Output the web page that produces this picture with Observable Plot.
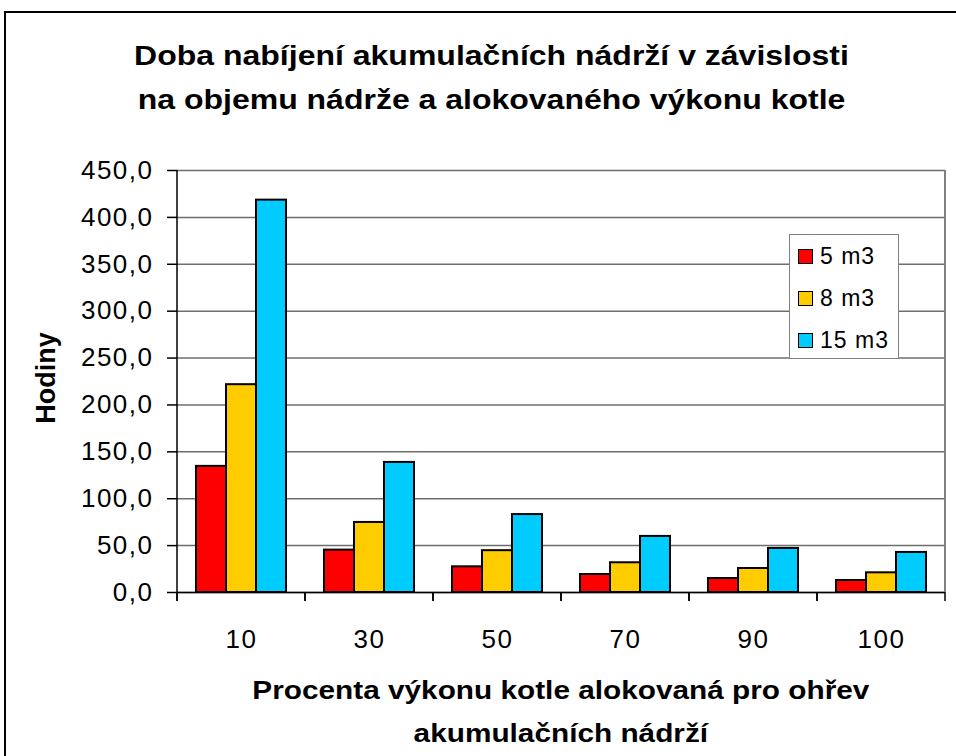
<!DOCTYPE html>
<html>
<head>
<meta charset="utf-8">
<script src="https://cdn.jsdelivr.net/npm/d3@7"></script>
<script src="https://cdn.jsdelivr.net/npm/@observablehq/plot@0.6"></script>
<style>
  html, body { margin: 0; padding: 0; background: #fff; }
  body { width: 956px; height: 756px; position: relative; overflow: hidden; font-family: "Liberation Sans", Arial, sans-serif; }
  #frame { position: absolute; left: 4px; top: 11px; width: 1000px; height: 800px; border: 2px solid #000; box-sizing: border-box; }
  #chart { position: absolute; left: 0; top: 0; }
  #chart svg text { letter-spacing: 1.5px; }
  .title { position: absolute; left: 0; width: 983px; text-align: center; font-weight: bold; color: #000; }
  #title { top: 35px; font-size: 27px; line-height: 43.5px; transform: scaleX(1.185); transform-origin: 491.5px 0; }
  #xtitle { top: 669px; left: 177px; width: 768px; font-size: 26px; line-height: 43px; transform: scaleX(1.145); transform-origin: 385px 0; }
  #ytitle { position: absolute; left: 46px; top: 378px; transform: translate(-50%, -50%) rotate(-90deg); font-size: 27px; font-weight: bold; white-space: nowrap; }
  #legend { position: absolute; left: 789px; top: 234px; width: 110px; height: 125px; box-sizing: border-box; border: 1px solid #808080; background: #fff; }
  .item { position: absolute; left: 8px; height: 30px; display: flex; align-items: center; font-size: 23px; letter-spacing: 1px; color: #000; }
  .sw { width: 13px; height: 13px; border: 1.5px solid #000; margin-right: 7px; }
</style>
</head>
<body>
<div id="frame"></div>
<div id="chart"></div>
<div id="title" class="title">Doba nabíjení akumulačních nádrží v závislosti<br>na objemu nádrže a alokovaného výkonu kotle</div>
<div id="xtitle" class="title">Procenta výkonu kotle alokovaná pro ohřev<br>akumulačních nádrží</div>
<div id="ytitle">Hodiny</div>
<div id="legend"></div>
<script>
// ---- data ----
const categories = ["10", "30", "50", "70", "90", "100"];
const series = ["5 m3", "8 m3", "15 m3"];
const colors = ["#FF0000", "#FFCC00", "#00CCFF"];
const values5 = [134.5, 45.2, 27.4, 19.2, 14.9, 12.8];
const values8 = [221.6, 74.7, 44.6, 31.7, 25.6, 21.0];
const values15 = [418.4, 138.7, 83.1, 59.8, 47.0, 42.7];
const yTicks = [0, 50, 100, 150, 200, 250, 300, 350, 400, 450];

const seriesValues = [values5, values8, values15];
const data = [];
categories.forEach((c, i) => series.forEach((s, j) => data.push({cat: c, series: s, value: seriesValues[j][i]})));

const fmt = d => d.toFixed(1).replace(".", ",");

// per-facet boundary ticks below the category axis (drawn at each facet's edges)
const boundaryTicks = (index, scales, values, dims) => {
  const x = scales.x, y = scales.y;
  let r0, r1;
  if (x && x.range) { [r0, r1] = x.range(); }
  else { r0 = dims.marginLeft; r1 = dims.marginLeft + (dims.width - dims.marginLeft - dims.marginRight) / categories.length; }
  const y0 = y(0);
  const g = d3.create("svg:g");
  g.selectAll("line").data([r0, r1]).join("line")
    .attr("x1", d => d).attr("x2", d => d)
    .attr("y1", y0).attr("y2", y0 + 9)
    .attr("stroke", "#000").attr("stroke-width", 1.5);
  return g.node();
};

const M = {left: 177, right: 11, top: 170, bottom: 164};
const chart = Plot.plot({
  width: 956,
  height: 756,
  marginLeft: M.left,
  marginRight: M.right,
  marginTop: M.top,
  marginBottom: M.bottom,
  style: {fontFamily: "'Liberation Sans', Arial, sans-serif", fontSize: "26px", background: "transparent", color: "#000"},
  fx: {domain: categories, padding: 0, label: null, axis: null},
  x: {domain: series, paddingInner: 0, paddingOuter: 0.565, axis: null},
  y: {domain: [0, 450], axis: null},
  color: {domain: series, range: colors},
  marks: [
    Plot.gridY(yTicks, {stroke: "#6e6e6e", strokeOpacity: 1, strokeWidth: 1.5}),
    Plot.barY(data, {fx: "cat", x: "series", y: "value", fill: "series", stroke: "#000", strokeWidth: 2}),
    Plot.ruleY([0], {stroke: "#000", strokeWidth: 1.5}),
    Plot.axisY(yTicks, {anchor: "left", tickSize: 10, tickPadding: 14, tickFormat: fmt, label: null, fontSize: 26, stroke: "#000", strokeWidth: 1.5}),
    Plot.axisFx({anchor: "bottom", tickSize: 0, tickPadding: 37, label: null, fontSize: 26}),
    boundaryTicks
  ]
});
document.getElementById("chart").appendChild(chart);

// value-axis line (left) and plot-area border (right), placed from the plot's own scales
(() => {
  const ys = chart.scale("y");
  const y0 = ys.apply(0), yTop = ys.apply(yTicks[yTicks.length - 1]);
  let xl = M.left, xr = 956 - M.right;
  const fxs = chart.scale("fx");
  if (fxs && fxs.apply && fxs.bandwidth != null) {
    xl = fxs.apply(categories[0]);
    xr = fxs.apply(categories[categories.length - 1]) + fxs.bandwidth;
  }
  const svg = d3.select(chart);
  svg.append("line").attr("x1", xr).attr("x2", xr).attr("y1", yTop).attr("y2", y0)
    .attr("stroke", "#808080").attr("stroke-width", 2);
  svg.append("line").attr("x1", xl).attr("x2", xl).attr("y1", yTop).attr("y2", y0 + 9)
    .attr("stroke", "#000").attr("stroke-width", 1.5);
})();

// legend
const legend = document.getElementById("legend");
series.forEach((s, i) => {
  const item = document.createElement("div");
  item.className = "item";
  item.style.top = (6 + i * 42) + "px";
  const sw = document.createElement("div");
  sw.className = "sw";
  sw.style.background = colors[i];
  const t = document.createElement("span");
  t.textContent = s;
  item.appendChild(sw);
  item.appendChild(t);
  legend.appendChild(item);
});
</script>
</body>
</html>
